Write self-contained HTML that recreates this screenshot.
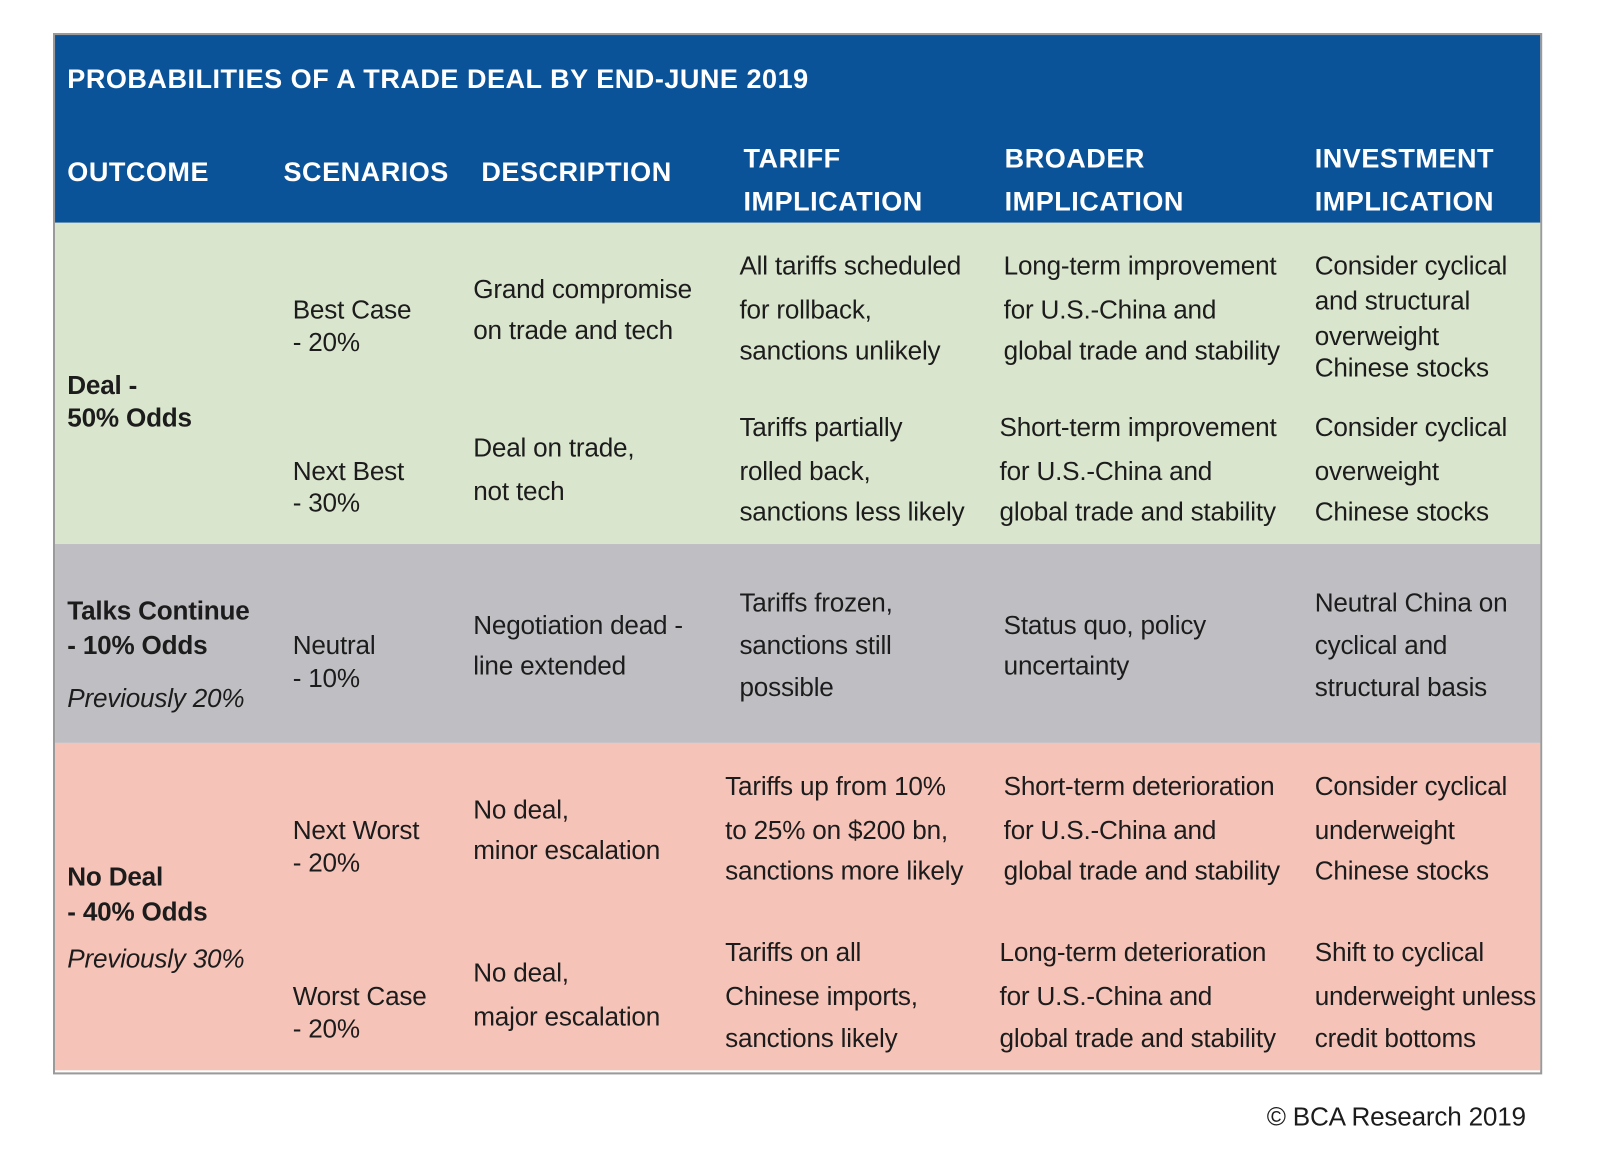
<!DOCTYPE html>
<html><head><meta charset="utf-8">
<style>
html,body{margin:0;padding:0;background:#fff;}
body{width:1600px;height:1150px;position:relative;overflow:hidden;font-family:"Liberation Sans",Arial,sans-serif;}
#stage{position:absolute;left:0;top:0;width:1600px;height:1150px;transform-origin:52px 31px;transform:translate(1px,2px) scale(1.02);}
.band{position:absolute;left:54px;width:1456px;}
.t{position:absolute;white-space:nowrap;font-size:25.6px;line-height:30px;color:#1c1c1c;letter-spacing:-0.2px;}
.h{color:#fff;font-weight:bold;font-size:26.5px;letter-spacing:0.5px;}
.b{font-weight:bold;}
.i{font-style:italic;}
</style></head>
<body>
<div id="stage">
<div style="position:absolute;left:52px;top:31px;width:1456px;height:1017px;border:2px solid #9a9a9a;"></div>
<div class="band" style="top:33px;height:184px;background:#0b5399;"></div>
<div class="band" style="top:217px;height:315px;background:#d9e5cd;"></div>
<div class="band" style="top:532px;height:195px;background:#bfbfc3;"></div>
<div class="band" style="top:727px;height:321px;background:#f5c3b7;"></div>

<div class="t h" style="left:66px;top:61px;">PROBABILITIES OF A TRADE DEAL BY END-JUNE 2019</div>
<div class="t h" style="left:66px;top:152px;">OUTCOME</div>
<div class="t h" style="left:278px;top:152px;">SCENARIOS</div>
<div class="t h" style="left:472px;top:152px;">DESCRIPTION</div>
<div class="t h" style="left:729px;top:133px;line-height:42px;">TARIFF<br>IMPLICATION</div>
<div class="t h" style="left:985px;top:133px;line-height:42px;">BROADER<br>IMPLICATION</div>
<div class="t h" style="left:1289px;top:133px;line-height:42px;">INVESTMENT<br>IMPLICATION</div>

<div id="cells"></div>
<div class="t" style="right:104px;top:1079px;">© BCA Research 2019</div>
</div>

<script>
const cells = [
 [66,[377,409],["Deal -","50% Odds"],"b","deal-outcome"],
 [287,[303,335],["Best Case","- 20%"],"","best-case-scenario"],
 [464,[283,323],["Grand compromise","on trade and tech"],"","best-case-description"],
 [725,[260,303,343],["All tariffs scheduled","for rollback,","sanctions unlikely"],"","best-case-tariff"],
 [984,[260,303,343],["Long-term improvement","for U.S.-China and","global trade and stability"],"","best-case-broader"],
 [1289,[260,294,329,360],["Consider cyclical","and structural","overweight","Chinese stocks"],"","best-case-investment"],
 [287,[461,492],["Next Best","- 30%"],"","next-best-scenario"],
 [464,[438,481],["Deal on trade,","not tech"],"","next-best-description"],
 [725,[418,461,501],["Tariffs partially","rolled back,","sanctions less likely"],"","next-best-tariff"],
 [980,[418,461,501],["Short-term improvement","for U.S.-China and","global trade and stability"],"","next-best-broader"],
 [1289,[418,461,501],["Consider cyclical","overweight","Chinese stocks"],"","next-best-investment"],
 [66,[598,632],["Talks Continue","- 10% Odds"],"b","talks-outcome"],
 [66,[684],["Previously 20%"],"i","talks-previous"],
 [287,[632,664],["Neutral","- 10%"],"","neutral-scenario"],
 [464,[612,652],["Negotiation dead  -","line extended"],"","neutral-description"],
 [725,[590,632,673],["Tariffs frozen,","sanctions still","possible"],"","neutral-tariff"],
 [984,[612,652],["Status quo, policy","uncertainty"],"","neutral-broader"],
 [1289,[590,632,673],["Neutral China on","cyclical and","structural basis"],"","neutral-investment"],
 [66,[859,893],["No Deal","- 40% Odds"],"b","nodeal-outcome"],
 [66,[939],["Previously 30%"],"i","nodeal-previous"],
 [287,[813,845],["Next Worst","- 20%"],"","next-worst-scenario"],
 [464,[793,833],["No deal,","minor escalation"],"","next-worst-description"],
 [711,[770,813,853],["Tariffs up from 10%","to 25% on $200 bn,","sanctions more likely"],"","next-worst-tariff"],
 [984,[770,813,853],["Short-term deterioration","for U.S.-China and","global trade and stability"],"","next-worst-broader"],
 [1289,[770,813,853],["Consider cyclical","underweight","Chinese stocks"],"","next-worst-investment"],
 [287,[976,1008],["Worst Case"," - 20%"],"","worst-case-scenario"],
 [464,[953,996],["No deal,","major escalation"],"","worst-case-description"],
 [711,[933,976,1017],["Tariffs on all","Chinese imports,","sanctions likely"],"","worst-case-tariff"],
 [980,[933,976,1017],["Long-term deterioration","for U.S.-China and","global trade and stability"],"","worst-case-broader"],
 [1289,[933,976,1017],["Shift to cyclical","underweight unless","credit bottoms"],"","worst-case-investment"]
];
const host = document.getElementById('cells');
cells.forEach(c => {
  const wrap = document.createElement('div');
  
  
  c[1].forEach((y, k) => {
    const s = document.createElement('div');
    s.className = 't ' + c[3];
    s.style.left = c[0] + 'px';
    s.style.top = (y - 15) + 'px';
    s.textContent = c[2][k];
    
    
    wrap.appendChild(s);
  });
  host.appendChild(wrap);
});
</script>
</body></html>
